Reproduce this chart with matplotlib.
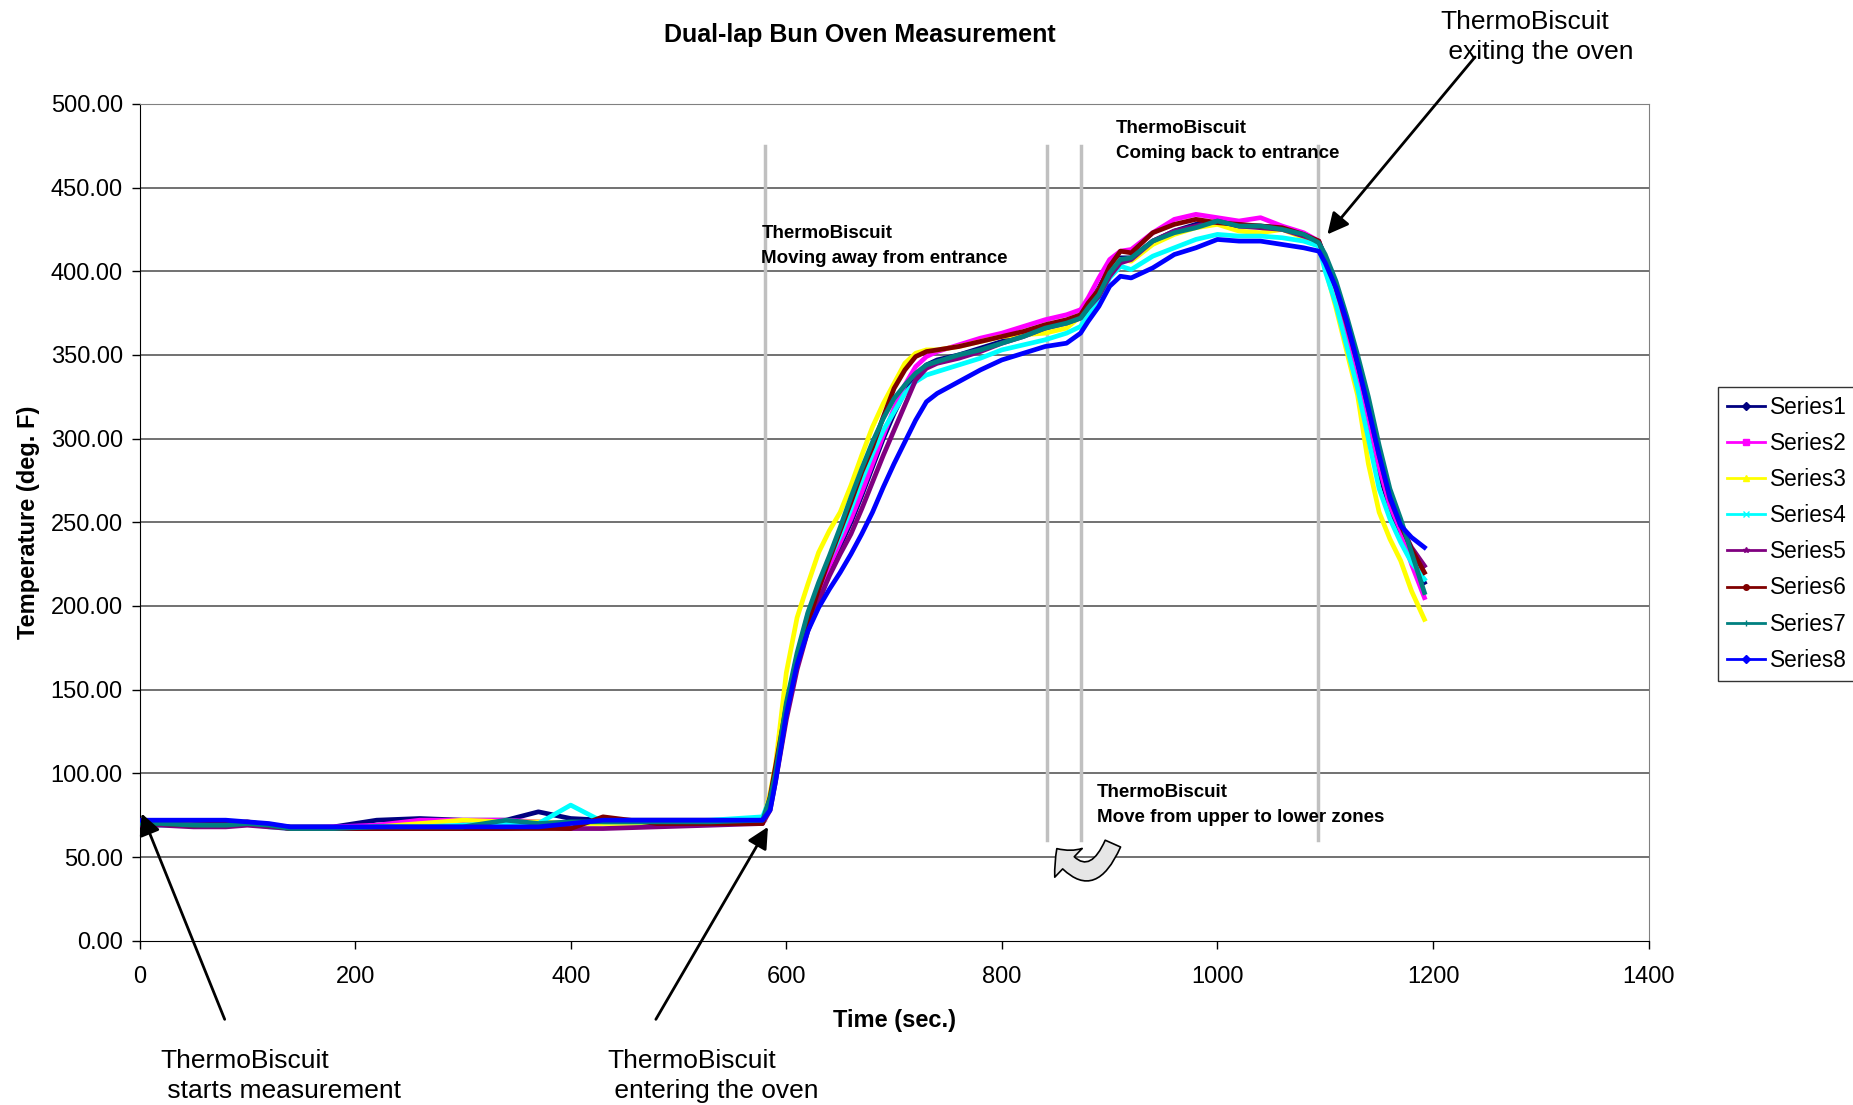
import matplotlib
matplotlib.use('Agg')
import matplotlib.pyplot as plt
from matplotlib.lines import Line2D
from matplotlib.patches import FancyArrowPatch

plt.rcParams['font.family'] = ['Liberation Sans', 'DejaVu Sans']

# sample times (sec.)
time_s = [0, 20, 50, 80, 100, 120, 140, 180, 220, 260, 300, 340, 370, 400, 430, 480, 530, 578,
          585, 590, 600, 610, 620, 630, 640, 650, 660, 670, 680, 690, 700, 710, 720, 730, 740,
          760, 780, 800, 820, 840, 860, 873, 880, 890, 900, 910, 920, 940, 960, 980, 1000, 1020,
          1040, 1060, 1080, 1094, 1100, 1110, 1120, 1130, 1140, 1150, 1160, 1170, 1180, 1192]

# temperatures (deg. F)
series1 = [71, 71, 70, 70, 70, 69, 68, 68, 72, 73, 72, 72, 77, 73, 72, 72, 72, 72,
           80, 97, 135, 165, 187, 202, 220, 236, 250, 266, 283, 300, 315, 328, 338, 344, 347,
           350, 354, 358, 362, 366, 370, 373, 380, 390, 402, 408, 408, 418, 424, 428, 429, 427,
           427, 426, 422, 417, 405, 385, 362, 338, 310, 280, 258, 240, 228, 214]
series2 = [70, 70, 69, 69, 70, 69, 67, 68, 69, 72, 72, 72, 71, 70, 71, 70, 70, 71,
           80, 98, 135, 165, 188, 207, 224, 238, 252, 268, 285, 302, 318, 332, 343, 349, 352,
           356, 360, 363, 367, 371, 374, 377, 384, 396, 407, 412, 413, 423, 431, 434, 432, 430,
           432, 427, 423, 418, 405, 387, 365, 340, 312, 283, 260, 245, 225, 205]
series3 = [70, 70, 69, 69, 70, 69, 67, 67, 68, 70, 72, 71, 71, 70, 70, 70, 70, 71,
           88, 105, 160, 193, 213, 232, 245, 256, 272, 290, 307, 321, 333, 345, 351, 353, 353,
           355, 358, 361, 362, 363, 366, 373, 380, 389, 400, 407, 406, 416, 422, 426, 428, 424,
           423, 425, 420, 416, 402, 378, 352, 326, 285, 256, 240, 227, 209, 192]
series4 = [70, 69, 69, 69, 70, 68, 67, 67, 68, 68, 69, 70, 70, 81, 71, 71, 72, 74,
           85, 100, 140, 170, 195, 212, 228, 242, 258, 275, 291, 305, 316, 327, 334, 338, 340,
           344, 348, 353, 356, 359, 363, 367, 374, 383, 396, 403, 401, 409, 414, 419, 422, 421,
           421, 420, 418, 415, 400, 380, 355, 330, 300, 270, 252, 238, 226, 216]
series5 = [69, 69, 68, 68, 69, 68, 67, 67, 67, 67, 67, 67, 68, 67, 67, 68, 69, 70,
           78, 95, 132, 162, 185, 203, 218, 231, 243, 258, 274, 290, 305, 320, 335, 342, 345,
           348, 352, 357, 361, 366, 369, 372, 378, 385, 397, 405, 407, 418, 424, 427, 430, 427,
           426, 425, 421, 418, 408, 390, 368, 345, 318, 290, 264, 248, 235, 224]
series6 = [70, 70, 69, 70, 71, 69, 67, 67, 67, 67, 67, 67, 67, 67, 74, 70, 70, 70,
           86, 104, 140, 170, 190, 210, 228, 245, 262, 280, 295, 313, 330, 341, 349, 352, 353,
           355, 358, 361, 364, 368, 371, 374, 381, 389, 403, 412, 411, 423, 428, 431, 429, 428,
           427, 426, 422, 418, 408, 391, 370, 346, 320, 292, 266, 249, 234, 220]
series7 = [70, 70, 69, 69, 70, 69, 67, 67, 68, 68, 68, 72, 70, 71, 71, 71, 71, 72,
           85, 100, 142, 172, 196, 214, 230, 247, 265, 282, 298, 312, 324, 332, 339, 344, 346,
           350, 353, 357, 361, 366, 369, 372, 378, 386, 399, 407, 408, 418, 423, 426, 430, 427,
           427, 425, 422, 417, 410, 394, 373, 350, 325, 296, 270, 252, 232, 208]
series8 = [72, 72, 72, 72, 71, 70, 68, 68, 68, 68, 68, 68, 68, 70, 72, 72, 72, 72,
           78, 95, 135, 165, 185, 199, 210, 220, 231, 243, 256, 271, 285, 298, 311, 322, 327,
           334, 341, 347, 351, 355, 357, 363, 370, 379, 391, 397, 396, 402, 410, 414, 419, 418,
           418, 416, 414, 412, 405, 390, 370, 345, 318, 290, 265, 248, 241, 235]

all_series = [series1, series2, series3, series4, series5, series6, series7, series8]
names = ['Series1', 'Series2', 'Series3', 'Series4', 'Series5', 'Series6', 'Series7', 'Series8']
colors = ['#000080', '#FF00FF', '#FFFF00', '#00FFFF', '#800080', '#800000', '#008080', '#0000FF']
markers = ['D', 's', '^', 'x', '*', 'o', '+', 'D']

# event markers (sec.)
events = [580, 842, 873, 1093]

fig = plt.figure(figsize=(18.53, 11.05), dpi=100)
ax = fig.add_axes([0.0753, 0.1487, 0.8144, 0.7573])

for y in range(50, 501, 50):
    ax.axhline(y, color='#666666', lw=1.3, zorder=1)

for i, ev in enumerate(events):
    lo = 72 if i == 0 else 60
    ax.plot([ev, ev], [lo, 475], color='#c0c0c0', lw=2.5, zorder=2)

for s, c in zip(all_series, colors):
    ax.plot(time_s, s, color=c, lw=3.4, zorder=3, solid_joinstyle='round')

ax.set_xlim(0, 1400)
ax.set_ylim(0, 500)
ax.set_xticks(range(0, 1401, 200))
ax.set_yticks(range(0, 501, 50))
ax.set_yticklabels(['%.2f' % v for v in range(0, 501, 50)])
ax.tick_params(direction='out', length=6, width=1, labelsize=17, pad=6)
ax.tick_params(axis='x', pad=12)
for side in ['top', 'right']:
    ax.spines[side].set_color('#808080')
for side in ['left', 'bottom']:
    ax.spines[side].set_color('black')

ax.set_xlabel('Time (sec.)', fontsize=17, fontweight='bold', labelpad=15)
ax.set_ylabel('Temperature (deg. F)', fontsize=17, fontweight='bold', labelpad=8)
fig.text(0.464, 0.968, 'Dual-lap Bun Oven Measurement', fontsize=18, fontweight='bold',
         ha='center', va='center')

# bold notes inside the chart
note_kw = dict(fontsize=13.5, fontweight='bold', ha='left', va='center', linespacing=1.6)
ax.text(577, 415, 'ThermoBiscuit\nMoving away from entrance', **note_kw)
ax.text(906, 478, 'ThermoBiscuit\nComing back to entrance', **note_kw)
ax.text(888, 81, 'ThermoBiscuit\nMove from upper to lower zones', **note_kw)

# notes with arrows
big_kw = dict(fontsize=19, va='center', ha='left', linespacing=1.3, clip_on=False)
ax.text(19, -81, 'ThermoBiscuit\n starts measurement', **big_kw)
ax.text(434, -81, 'ThermoBiscuit\n entering the oven', **big_kw)
ax.text(1207, 540, 'ThermoBiscuit\n exiting the oven', **big_kw)

arrow_kw = dict(arrowstyle='-|>', color='black', lw=2, mutation_scale=32, shrinkA=0, shrinkB=0)
ax.annotate('', xy=(2, 76), xytext=(79, -47), arrowprops=arrow_kw, annotation_clip=False)
ax.annotate('', xy=(583, 68), xytext=(479, -47), arrowprops=arrow_kw, annotation_clip=False)
ax.annotate('', xy=(1102, 422), xytext=(1239, 528), arrowprops=arrow_kw, annotation_clip=False)

# U-turn arrow between upper and lower zones
uturn = FancyArrowPatch((903, 58), (851, 55), connectionstyle='arc3,rad=-0.9',
                        arrowstyle='simple,head_length=0.6,head_width=1.3,tail_width=0.55',
                        mutation_scale=22, fc='#e6e6e6', ec='black', lw=1.2, zorder=5,
                        shrinkA=0, shrinkB=0)
ax.add_patch(uturn)

handles = [Line2D([0], [0], color=c, lw=2, marker=m, markersize=4) for c, m in zip(colors, markers)]
leg = fig.legend(handles, names, loc='upper left', bbox_to_anchor=(0.927, 0.650),
                 bbox_transform=fig.transFigure, fontsize=16.3, frameon=True, fancybox=False,
                 edgecolor='black', handlelength=1.7, handletextpad=0.2, borderpad=0.4,
                 labelspacing=0.58, borderaxespad=0)
leg.get_frame().set_linewidth(1)

fig.savefig('out.png', dpi=100)
